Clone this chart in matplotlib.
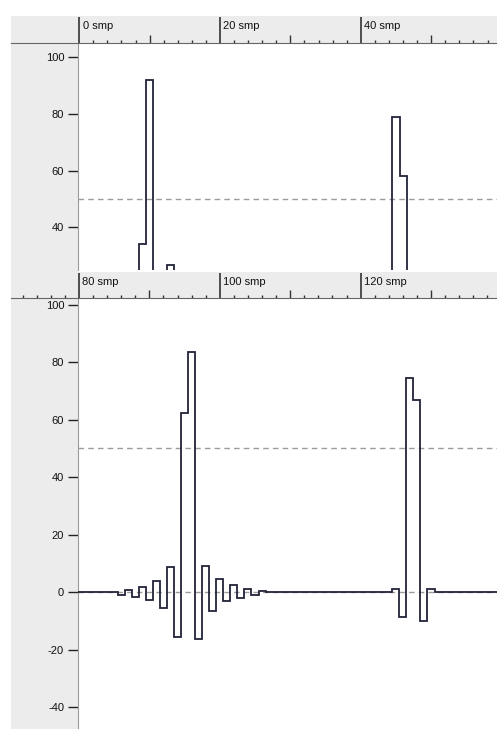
import numpy as np
import matplotlib
matplotlib.use("Agg")
import matplotlib.pyplot as plt

plt.rcParams['font.family'] = ['Liberation Sans', 'DejaVu Sans']
plt.rcParams['axes.unicode_minus'] = False

# top view: samples 0..60, only the peaks reach above the visible floor
top_start = 0
top_len = 61
top_idx = [9, 10, 11, 12, 13, 45, 46]
top_amp = [34, 92, -12, 6, 26.7, 79, 58]

# bottom view: samples 80..140
bot_start = 80
bot_len = 61
bot_idx = [86, 87, 88, 89, 90, 91, 92, 93, 94, 95, 96, 97, 98, 99, 100,
           101, 102, 103, 104, 105, 106, 125, 126, 127, 128, 129, 130]
bot_amp = [-0.9, 0.8, -1.5, 2.0, -2.7, 3.8, -5.6, 8.8, -15.5, 62.3, 83.5,
           -16.3, 9.3, -6.4, 4.5, -2.9, 2.6, -1.8, 1.3, -0.8, 0.5,
           1.3, -8.5, 74.5, 66.8, -10, 1.2]

threshold = 50
top_yticks = [40, 60, 80, 100]
bot_yticks = [-40, -20, 0, 20, 40, 60, 80, 100]

W, H = 497, 729
GRAY = '#ececec'
LINE = '#23233a'


def box(x0, y0, x1, y1):
    return [x0 / W, 1 - y1 / H, (x1 - x0) / W, (y1 - y0) / H]


def build(start, n, idx, amp):
    v = np.zeros(n)
    v[np.array(idx) - start] = amp
    return v


def data_axes(fig, rect, xlim, ylim, yticks, vals, start, zero_line):
    ax = fig.add_axes(rect)
    ax.set_facecolor('white')
    ax.set_xlim(*xlim)
    ax.set_ylim(*ylim)
    for s in ['top', 'right', 'bottom']:
        ax.spines[s].set_visible(False)
    ax.spines['left'].set_color('#9a9a9a')
    ax.set_xticks([])
    ax.set_yticks(yticks)
    ax.tick_params(axis='y', direction='out', length=7, width=1,
                   color='#222222', labelsize=8, pad=3, labelcolor='#111111')
    ax.axhline(threshold, color='#9c9c9c', lw=1, ls=(0, (4, 3)), zorder=1)
    if zero_line:
        ax.axhline(0, color='#9c9c9c', lw=1, ls=(0, (4, 3)), zorder=1)
    edges = np.arange(len(vals) + 1) + start - 0.5
    ax.stairs(vals, edges, baseline=None, color=LINE, lw=1.3, zorder=3)
    return ax


def ruler(fig, rect, xlim, first):
    ax = fig.add_axes(rect)
    ax.set_facecolor(GRAY)
    ax.set_xlim(*xlim)
    ax.set_ylim(0, 1)
    for s in ['top', 'right', 'left']:
        ax.spines[s].set_visible(False)
    ax.spines['bottom'].set_color('#666666')
    ax.set_xticks([])
    ax.set_yticks([])
    lo = int(np.ceil(max(xlim[0], first) / 2) * 2)
    for t in range(lo, int(xlim[1]) + 1, 2):
        if t % 20 == 0:
            ax.vlines(t, 0, 0.97, color='#222222', lw=1.1)
            ax.annotate(f'{t} smp', (t, 0.62), xytext=(2.5, 0),
                        textcoords='offset points', va='center', ha='left',
                        fontsize=8, color='#111111')
        elif t % 10 == 0:
            ax.vlines(t, 0, 0.3, color='#333333', lw=1)
        else:
            ax.vlines(t, 0, 0.12, color='#333333', lw=1)
    return ax


pps = 7.04  # pixels per sample
fig = plt.figure(figsize=(W / 100, H / 100), dpi=100)

bg = fig.add_axes(box(11, 43, 78, 729))
bg.set_facecolor(GRAY)
bg.set_xticks([])
bg.set_yticks([])
for s in bg.spines.values():
    s.set_visible(False)

top_vals = build(top_start, top_len, top_idx, top_amp)
bot_vals = build(bot_start, bot_len, bot_idx, bot_amp)

top_xlim = (top_start - 1.2 / pps, top_start - 1.2 / pps + 419 / pps)
bot_xlim = (bot_start - 1.0 / pps, bot_start - 1.0 / pps + 419 / pps)

data_axes(fig, box(78, 43, 497, 270), top_xlim, (25, 105), top_yticks,
          top_vals, top_start, False)
data_axes(fig, box(78, 298, 497, 729), bot_xlim, (-47.5, 102.3), bot_yticks,
          bot_vals, bot_start, True)

ruler(fig, box(11, 16, 497, 43), (top_xlim[0] - 67 / pps, top_xlim[1]), 0)
ruler(fig, box(11, 272, 497, 298), (bot_xlim[0] - 67 / pps, bot_xlim[1]), -999)

fig.savefig('out.png', dpi=100)
